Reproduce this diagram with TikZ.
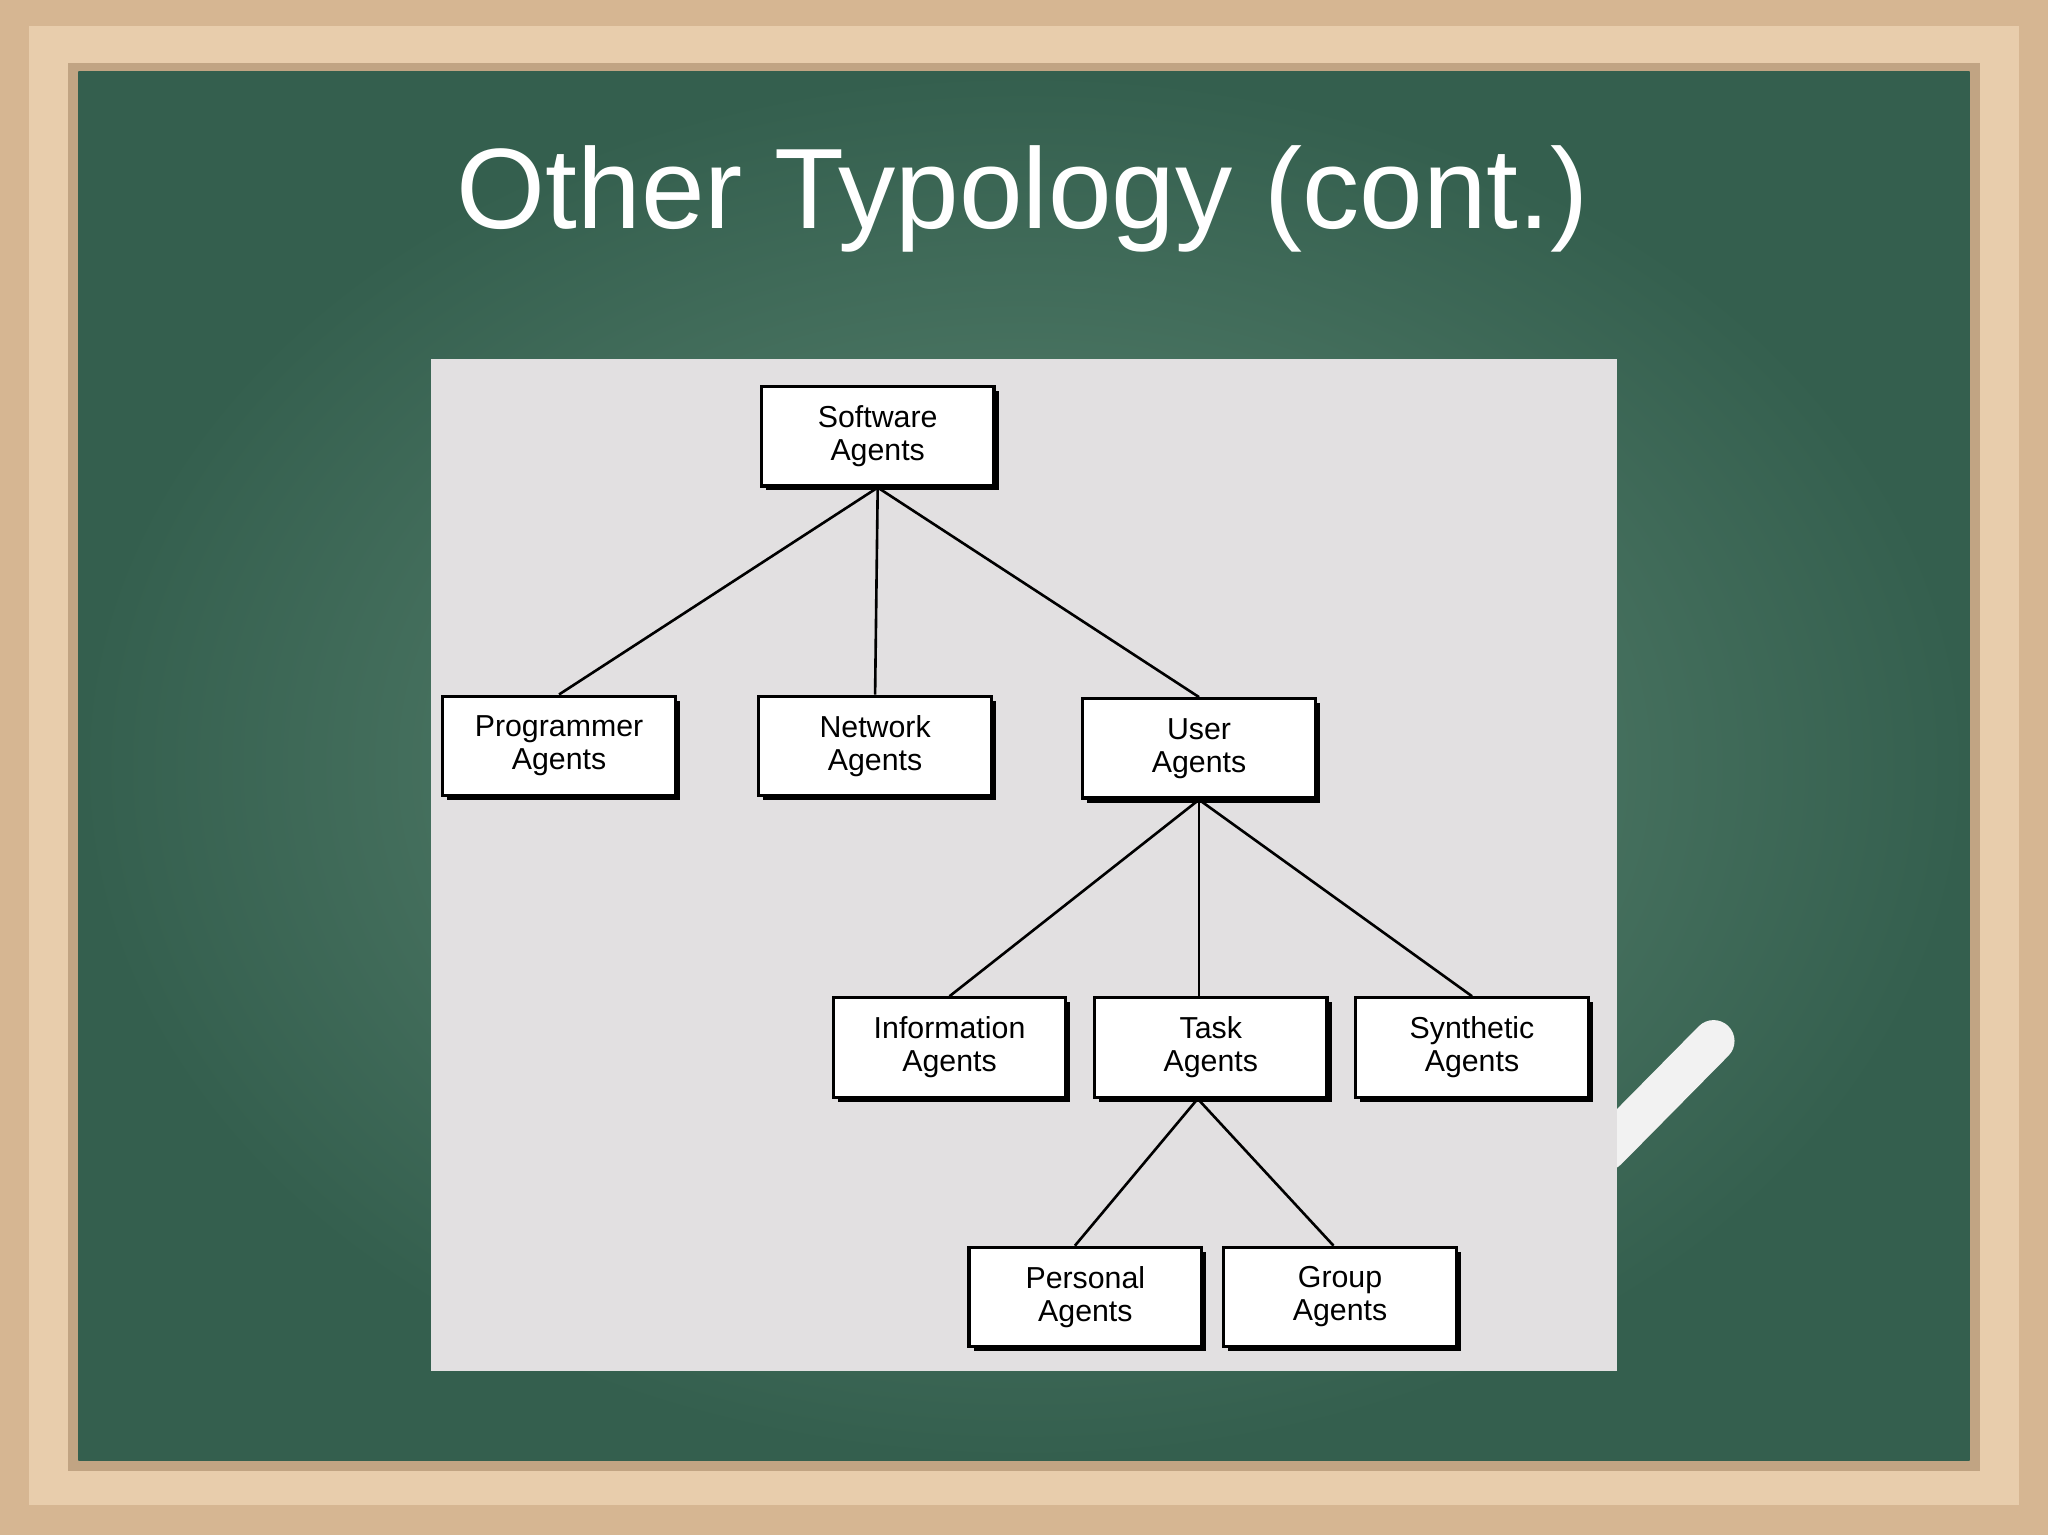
\documentclass[tikz,border=0pt]{standalone}
\usepackage{fontspec}
\setmainfont{Liberation Sans}
\usetikzlibrary{shadows}
\definecolor{wood}{RGB}{214,182,146}
\definecolor{woodin}{RGB}{232,205,172}
\definecolor{boardA}{RGB}{52,95,78}
\definecolor{boardB}{RGB}{96,138,118}
\definecolor{panel}{RGB}{226,224,225}
\tikzset{
 box/.style={draw=black, line width=0.25mm, fill=white, minimum width=1.78cm, minimum height=0.76cm,
   align=center, font=\fontsize{6.6}{7.2}\selectfont, inner sep=0pt,
   drop shadow={shadow xshift=0.035cm, shadow yshift=-0.035cm, fill=black, opacity=1}},
 conn/.style={line width=0.2mm, black}
}
\begin{document}
\begin{tikzpicture}[x=0.01cm,y=-0.01cm]
\useasboundingbox (0,0) rectangle (1568,1175);
\fill[wood] (0,0) rectangle (1568,1175);
\fill[woodin] (22,20) rectangle (1546,1152);
\fill[wood!90!black] (52,48) rectangle (1516,1126);
\shade[inner color=boardB, outer color=boardA] (60,55) rectangle (1508,1118);
\node[text=white, font=\fontsize{24.9}{28}\selectfont] (title) at (783,152) {Other Typology (cont.)};
% chalk
\draw[line width=0.32cm, white!90!gray, line cap=round] (1230,880) -- (1312,797);
\fill[panel] (330,275) rectangle (1238,1050);
\node[box] (sw) at (672,334) {Software\\Agents};
\node[box] (pr) at (428,571) {Programmer\\Agents};
\node[box] (nw) at (670,571) {Network\\Agents};
\node[box] (us) at (918,573) {User\\Agents};
\node[box] (in) at (727,802) {Information\\Agents};
\node[box] (ta) at (927,802) {Task\\Agents};
\node[box] (sy) at (1127,802) {Synthetic\\Agents};
\node[box] (pe) at (831,993) {Personal\\Agents};
\node[box] (gr) at (1026,993) {Group\\Agents};
\draw[conn] (sw.south) -- (pr.north);
\draw[conn] (sw.south) -- (nw.north);
\draw[conn] (sw.south) -- (us.north);
\draw[conn] (us.south) -- (in.north);
\draw[conn] (us.south) -- (us.south |- ta.north);
\draw[conn] (us.south) -- (sy.north);
\draw[conn] ([xshift=-0.1cm]ta.south) -- ([xshift=-0.08cm]pe.north);
\draw[conn] ([xshift=-0.1cm]ta.south) -- ([xshift=-0.05cm]gr.north);
\end{tikzpicture}
\end{document}
